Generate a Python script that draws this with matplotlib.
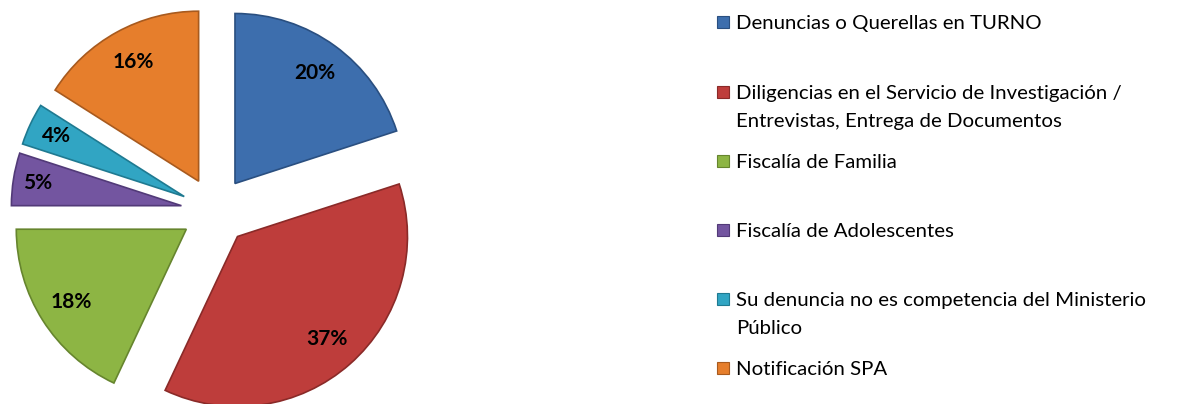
import matplotlib
matplotlib.use("Agg")
import matplotlib.pyplot as plt
from matplotlib.patches import Rectangle

categories = [
    "Denuncias o Querellas en TURNO",
    "Diligencias en el Servicio de Investigación /\nEntrevistas, Entrega de Documentos",
    "Fiscalía de Familia",
    "Fiscalía de Adolescentes",
    "Su denuncia no es competencia del Ministerio\nPúblico",
    "Notificación SPA",
]
values = [20, 37, 18, 5, 4, 16]
colors = ["#3D6EAD", "#BE3D3B", "#8DB544", "#7355A0", "#31A5C3", "#E67E2C"]
edges = ["#2A4F80", "#8A2A28", "#66852E", "#523A78", "#1F7A91", "#A85A1E"]

W, H = 1182, 404
fig = plt.figure(figsize=(W / 100, H / 100), dpi=100)
plt.rcParams['font.family'] = ['Lato', 'DejaVu Sans']

scale = 170.0
cx, cy = 215.0, 404 - 211.0
ax = fig.add_axes([0, 0, 2 * cx / W, 2 * cy / H])
wedges, texts, autotexts = ax.pie(
    values, colors=colors, startangle=90, counterclock=False,
    explode=[0.2] * len(values), radius=1.0,
    autopct=lambda p: f"{p:.0f}%", pctdistance=0.8,
    wedgeprops=dict(linewidth=1.2),
    textprops=dict(fontsize=15, fontweight='bold', color='black'))
for w, e in zip(wedges, edges):
    w.set_edgecolor(e)
ax.set_xlim(-cx / scale, cx / scale)
ax.set_ylim(-cy / scale, cy / scale)
ax.set_aspect('auto')
ax.axis('off')

# nudge small slices' labels outward a bit
for i, d in [(3, 1.07), (4, 1.04)]:
    x, y = autotexts[i].get_position()
    w = wedges[i]
    cxw, cyw = w.center
    autotexts[i].set_position((cxw + (x - cxw) * d, cyw + (y - cyw) * d))

# legend drawn manually
slot_y = [22, 92, 161, 230, 299, 368]
line_gap = 28
for lab, col, ec, yy in zip(categories, colors, edges, slot_y):
    fig.patches.append(Rectangle(((717) / W, (H - yy - 6) / H), 12 / W, 12 / H,
                                 transform=fig.transFigure, facecolor=col,
                                 edgecolor=ec, linewidth=0.8))
    for k, line in enumerate(lab.split("\n")):
        fig.text(736 / W, (H - yy - k * line_gap) / H, line, fontsize=14.7,
                 va='center_baseline', ha='left', color='black',
                 transform=fig.transFigure)

fig.savefig("out.png", dpi=100)
